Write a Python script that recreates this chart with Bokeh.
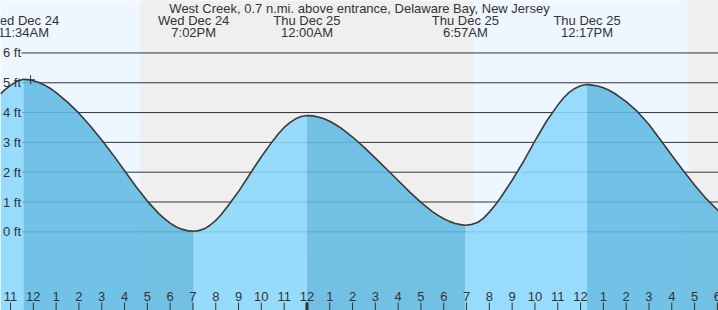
from bokeh.plotting import figure
from bokeh.models import Range1d
from bokeh.core.properties import value
from bokeh.embed import file_html
from bokeh.resources import INLINE

# ---------------- data (hours since Wed Dec 24 00:00) ----------------
tide_hours = [10.56, 10.75, 11.0, 11.25, 11.567, 11.75, 12.0, 12.25, 12.5, 12.75,
              13.0, 13.5, 14.0, 14.5, 15.0, 15.5, 16.0, 16.5, 17.0, 17.5, 17.75,
              18.0, 18.25, 18.5, 18.75, 19.033, 19.25, 19.5, 19.75, 20.0, 20.25,
              20.5, 21.0, 21.5, 22.0, 22.5, 22.75, 23.0, 23.25, 23.5, 23.75, 24.0,
              24.25, 24.5, 24.75, 25.0, 25.25, 25.5, 26.0, 26.5, 27.0, 27.5, 28.0,
              28.5, 29.0, 29.5, 29.75, 30.0, 30.25, 30.5, 30.75, 30.95, 31.25,
              31.5, 31.75, 32.0, 32.25, 32.5, 33.0, 33.5, 34.0, 34.5, 35.0, 35.25,
              35.5, 35.75, 36.0, 36.283, 36.5, 36.75, 37.0, 37.25, 37.5, 38.0,
              38.5, 39.0, 39.5, 40.0, 40.5, 41.0, 41.5, 42.0, 42.1]
tide_feet = [4.63, 4.76, 4.91, 5.04, 5.12, 5.11, 5.07, 5.01, 4.92, 4.81,
             4.67, 4.35, 3.98, 3.55, 3.08, 2.58, 2.05, 1.52, 1.03, 0.61, 0.44,
             0.29, 0.17, 0.09, 0.04, 0.02, 0.04, 0.10, 0.22, 0.38, 0.59,
             0.83, 1.35, 1.94, 2.52, 3.05, 3.29, 3.50, 3.66, 3.79, 3.87, 3.90,
             3.89, 3.85, 3.79, 3.71, 3.60, 3.48, 3.18, 2.84, 2.47, 2.10, 1.72,
             1.34, 0.99, 0.68, 0.55, 0.44, 0.35, 0.28, 0.24, 0.22, 0.25,
             0.32, 0.46, 0.66, 0.89, 1.15, 1.73, 2.36, 3.05, 3.70, 4.25, 4.49,
             4.68, 4.81, 4.90, 4.94, 4.92, 4.89, 4.83, 4.75, 4.64, 4.37,
             4.03, 3.60, 3.09, 2.57, 2.06, 1.57, 1.12, 0.74, 0.67]

extreme_hours = [11.567, 19.033, 24.0, 30.95, 36.283]
extreme_days = ["Wed Dec 24", "Wed Dec 24", "Thu Dec 25", "Thu Dec 25", "Thu Dec 25"]
extreme_times = ["11:34AM", "7:02PM", "12:00AM", "6:57AM", "12:17PM"]

sunset_hours = [16.70, 40.69]
sunrise_hours = [31.31, 42.10]

marker_hour = [11.88]
marker_feet = [5.10]

tick_hours = list(range(11, 43))
tick_labels = ["11", "12", "1", "2", "3", "4", "5", "6", "7", "8", "9", "10",
               "11", "12", "1", "2", "3", "4", "5", "6", "7", "8", "9", "10",
               "11", "12", "1", "2", "3", "4", "5", "6"]
midnight_hours = [24]

level_feet = [0, 1, 2, 3, 4, 5, 6]
level_labels = ["0 ft", "1 ft", "2 ft", "3 ft", "4 ft", "5 ft", "6 ft"]

title = "West Creek, 0.7 n.mi. above entrance, Delaware Bay, New Jersey"

# ---------------- layout ----------------
W, H = 718, 310
x_start, x_end = 10.56, 42.05
y_start, y_end = -2.64, 7.76
pph = W / (x_end - x_start)
ppf = H / (y_end - y_start)

def fx(px):
    return x_start + px / pph

def fy(py):
    return y_end - py / ppf

FONT = value("Liberation Sans")
TXT = "#333333"
DAY = "#EEF7FF"
NIGHT = "#EFEFEF"
LIGHT = "#8BD8FD"
DARK = "#61BAE3"

p = figure(width=W, height=H, x_range=Range1d(x_start, x_end),
           y_range=Range1d(y_start, y_end), output_backend="svg",
           toolbar_location=None, x_axis_type=None, y_axis_type=None,
           min_border=0, min_border_left=0, min_border_right=0,
           min_border_top=0, min_border_bottom=0)
p.grid.visible = False
p.outline_line_color = None
p.background_fill_color = DAY
p.border_fill_color = DAY

# night shading
p.quad(left=sunset_hours, right=sunrise_hours, bottom=y_start - 1, top=y_end + 1,
       fill_color=NIGHT, line_color=None)

# level lines
gx0 = fx(21)
p.segment(x0=[gx0] * len(level_feet), x1=[x_end + 1] * len(level_feet),
          y0=level_feet, y1=level_feet, line_color="#333333", line_width=1)

# tide fill, split at each high / low
cuts = [0] + [tide_hours.index(h) for h in extreme_hours] + [len(tide_hours) - 1]
for k in range(len(cuts) - 1):
    a, b = cuts[k], cuts[k + 1]
    xs = tide_hours[a:b + 1]
    ys = tide_feet[a:b + 1]
    p.varea(x=xs, y1=[y_start - 1] * len(xs), y2=ys,
            fill_color=LIGHT if k % 2 == 0 else DARK, fill_alpha=0.88)

p.line(tide_hours, tide_feet, line_color="#3a3a3a", line_width=1.6)
p.scatter(marker_hour, marker_feet, marker="cross", size=9,
          line_color="#333333", line_width=1)

# title and extreme labels
p.text(x=[(x_start + x_end) / 2], y=[fy(7.5)], text=[title], text_font=FONT,
       text_font_size="13px", text_color=TXT, text_align="center",
       text_baseline="middle")
p.text(x=extreme_hours, y=[fy(19.5)] * len(extreme_hours), text=extreme_days,
       text_font=FONT, text_font_size="13px", text_color=TXT,
       text_align="center", text_baseline="middle")
p.text(x=extreme_hours, y=[fy(31.5)] * len(extreme_hours), text=extreme_times,
       text_font=FONT, text_font_size="13px", text_color=TXT,
       text_align="center", text_baseline="middle")

# level labels
p.text(x=[fx(2.5)] * len(level_feet), y=level_feet, text=level_labels,
       text_font=FONT, text_font_size="13px", text_color=TXT,
       text_align="left", text_baseline="middle")

# hour ticks
p.segment(x0=tick_hours, x1=tick_hours, y0=[fy(302)] * len(tick_hours),
          y1=[y_start - 1] * len(tick_hours), line_color="#333333", line_width=1)
p.segment(x0=midnight_hours, x1=midnight_hours, y0=[fy(302)], y1=[y_start - 1],
          line_color="#333333", line_width=3)
p.text(x=tick_hours, y=[fy(295.5)] * len(tick_hours), text=tick_labels,
       text_font=FONT, text_font_size="13px", text_color=TXT,
       text_align="center", text_baseline="middle")

open("out.html", "w").write(file_html(p, INLINE))
